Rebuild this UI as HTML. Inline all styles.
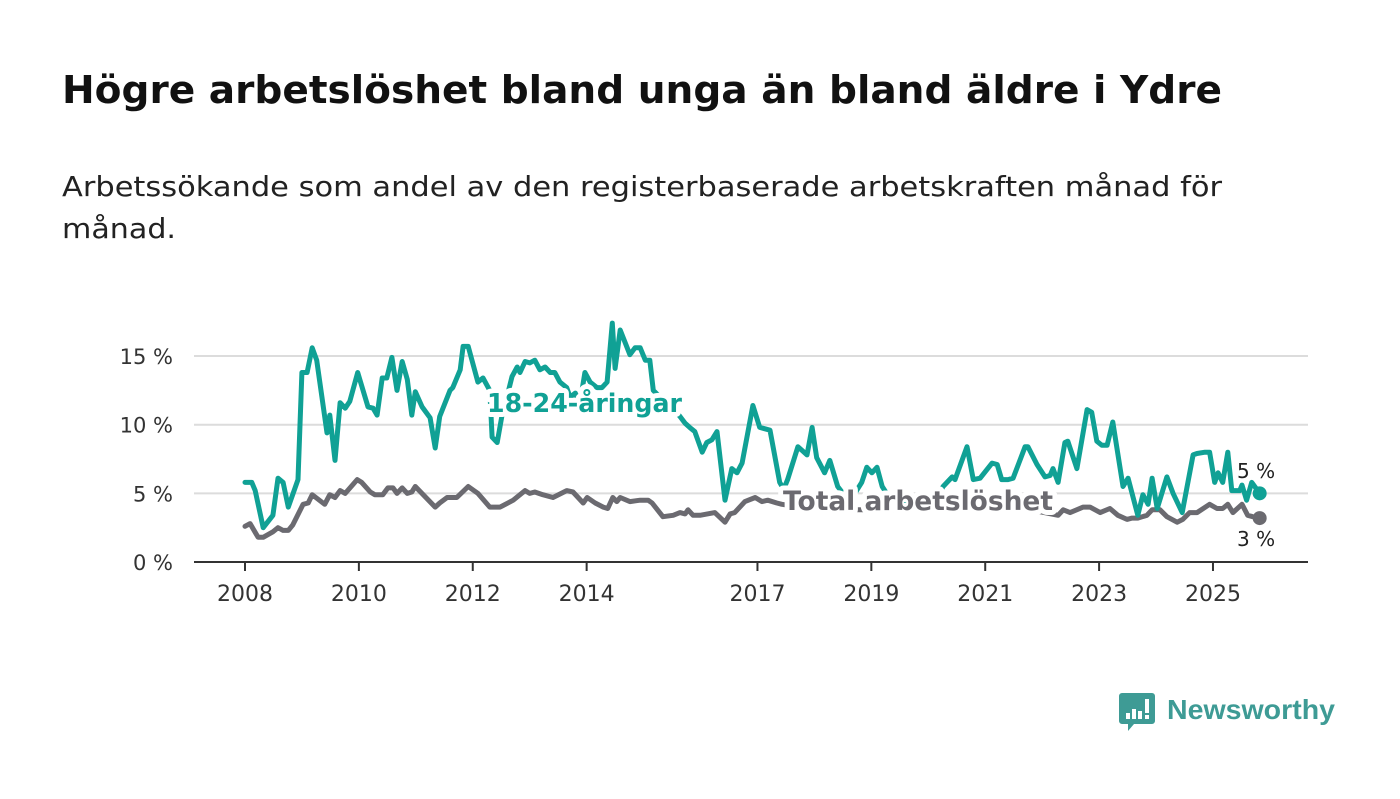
<!DOCTYPE html>
<html><head><meta charset="utf-8">
<style>
html,body{margin:0;padding:0;background:#fff;}
body{width:1400px;height:794px;overflow:hidden;font-family:"Liberation Sans",sans-serif;}
svg text{font-family:"DejaVu Sans","Liberation Sans",sans-serif;}
</style></head>
<body>
<svg id="chart" width="1400" height="794" viewBox="0 0 1400 794" xmlns="http://www.w3.org/2000/svg">
<text x="62" y="103" font-size="38" font-weight="bold" fill="#111" textLength="1160" lengthAdjust="spacingAndGlyphs">Högre arbetslöshet bland unga än bland äldre i Ydre</text>
<text x="62" y="196" font-size="28" fill="#222" textLength="1160" lengthAdjust="spacingAndGlyphs">Arbetssökande som andel av den registerbaserade arbetskraften månad för</text>
<text x="62" y="238" font-size="28" fill="#222" textLength="114" lengthAdjust="spacingAndGlyphs">månad.</text>
<g id="grid"></g>
<g id="axes"></g>
<g id="series"></g>
<g id="labels"></g>
<g>
<path d="M1122 693 h30 a3 3 0 0 1 3 3 v25 a3 3 0 0 1 -3 3 h-18 l-6 7 v-7 h-6 a3 3 0 0 1 -3 -3 v-25 a3 3 0 0 1 3 -3z" fill="#3e9b95"/>
<rect x="1126" y="713" width="4" height="6" fill="#fff"/>
<rect x="1132" y="709" width="4" height="10" fill="#fff"/>
<rect x="1138" y="711" width="4" height="8" fill="#fff"/>
<rect x="1145" y="699" width="4" height="14" fill="#fff"/>
<rect x="1145" y="715" width="4" height="4" fill="#fff"/>
<text x="1167" y="719" font-size="28" font-weight="bold" fill="#3e9b95" textLength="168" lengthAdjust="spacingAndGlyphs" style="font-family:'Liberation Sans',sans-serif">Newsworthy</text>
</g>
</svg>
<script>
const yTicks = [0, 5, 10, 15];
const yTickLabels = ["0 %", "5 %", "10 %", "15 %"];
const xTicks = [2008, 2010, 2012, 2014, 2017, 2019, 2021, 2023, 2025];
const youthDates = [2008.0,2008.12,2008.18,2008.32,2008.49,2008.58,2008.67,2008.76,2008.93,2009.0,2009.09,2009.18,2009.26,2009.44,2009.49,2009.58,2009.67,2009.76,2009.84,2009.98,2010.16,2010.25,2010.32,2010.41,2010.49,2010.58,2010.67,2010.76,2010.85,2010.93,2010.99,2011.11,2011.25,2011.34,2011.42,2011.6,2011.65,2011.78,2011.83,2011.92,2012.09,2012.18,2012.3,2012.34,2012.43,2012.51,2012.6,2012.69,2012.78,2012.83,2012.92,2013.0,2013.09,2013.18,2013.27,2013.36,2013.44,2013.53,2013.65,2013.71,2013.8,2013.88,2013.97,2014.06,2014.18,2014.27,2014.36,2014.45,2014.5,2014.59,2014.76,2014.85,2014.94,2015.03,2015.11,2015.17,2015.29,2015.46,2015.64,2015.73,2015.81,2015.9,2016.03,2016.11,2016.2,2016.29,2016.43,2016.55,2016.64,2016.73,2016.92,2017.04,2017.22,2017.39,2017.46,2017.53,2017.71,2017.87,2017.96,2018.04,2018.18,2018.27,2018.41,2018.54,2018.71,2018.83,2018.92,2019.01,2019.1,2019.19,2019.33,2019.5,2019.68,2019.85,2020.03,2020.15,2020.26,2020.42,2020.47,2020.68,2020.79,2020.91,2021.12,2021.21,2021.29,2021.4,2021.49,2021.7,2021.75,2021.91,2022.05,2022.14,2022.19,2022.28,2022.4,2022.45,2022.61,2022.79,2022.87,2022.96,2023.05,2023.14,2023.24,2023.42,2023.51,2023.68,2023.77,2023.86,2023.93,2024.02,2024.19,2024.3,2024.46,2024.65,2024.72,2024.86,2024.94,2025.03,2025.09,2025.17,2025.26,2025.33,2025.47,2025.51,2025.59,2025.68,2025.82];
const youthValues = [5.8,5.8,5.2,2.5,3.4,6.1,5.8,4.0,6.0,13.8,13.8,15.6,14.7,9.4,10.7,7.4,11.6,11.2,11.7,13.8,11.3,11.2,10.7,13.4,13.4,14.9,12.5,14.6,13.3,10.7,12.4,11.3,10.5,8.3,10.6,12.5,12.7,14.0,15.7,15.7,13.1,13.4,12.5,9.1,8.7,10.6,12.0,13.5,14.2,13.8,14.6,14.5,14.7,14.0,14.2,13.8,13.8,13.1,12.7,12.0,12.3,11.5,13.8,13.1,12.7,12.7,13.1,17.4,14.1,16.9,15.1,15.6,15.6,14.7,14.7,12.5,12.0,11.5,10.6,10.1,9.8,9.5,8.0,8.7,8.9,9.5,4.5,6.8,6.5,7.2,11.4,9.8,9.6,5.8,5.3,6.0,8.4,7.8,9.8,7.6,6.5,7.4,5.5,4.8,5.0,5.8,6.9,6.5,6.9,5.5,4.6,4.4,4.6,4.5,4.6,4.7,5.5,6.2,6.0,8.4,6.0,6.1,7.2,7.1,6.0,6.0,6.1,8.4,8.4,7.1,6.2,6.3,6.8,5.8,8.7,8.8,6.8,11.1,10.9,8.8,8.5,8.5,10.2,5.5,6.1,3.4,4.9,4.2,6.1,3.9,6.2,5.0,3.6,7.8,7.9,8.0,8.0,5.8,6.5,5.8,8.0,5.2,5.2,5.6,4.5,5.8,5.0];
const totalDates = [2008.0,2008.09,2008.23,2008.32,2008.49,2008.58,2008.67,2008.76,2008.84,2009.02,2009.11,2009.18,2009.4,2009.49,2009.58,2009.67,2009.76,2009.97,2010.05,2010.2,2010.28,2010.42,2010.51,2010.6,2010.67,2010.76,2010.85,2010.93,2010.99,2011.34,2011.42,2011.55,2011.72,2011.92,2012.09,2012.3,2012.48,2012.71,2012.92,2013.0,2013.09,2013.23,2013.41,2013.65,2013.76,2013.94,2014.01,2014.15,2014.29,2014.37,2014.46,2014.53,2014.59,2014.76,2014.94,2015.08,2015.15,2015.34,2015.52,2015.64,2015.73,2015.78,2015.87,2015.99,2016.25,2016.43,2016.52,2016.6,2016.78,2016.96,2017.08,2017.18,2017.34,2017.43,2017.75,2018.27,2018.97,2019.68,2020.38,2021.08,2021.79,2022.28,2022.37,2022.49,2022.72,2022.84,2023.02,2023.19,2023.33,2023.49,2023.58,2023.68,2023.84,2023.93,2024.07,2024.19,2024.37,2024.47,2024.59,2024.72,2024.94,2025.07,2025.17,2025.26,2025.35,2025.51,2025.61,2025.7,2025.82];
const totalValues = [2.6,2.8,1.8,1.8,2.2,2.5,2.3,2.3,2.7,4.2,4.3,4.9,4.2,4.9,4.7,5.2,5.0,6.0,5.8,5.1,4.9,4.9,5.4,5.4,5.0,5.4,5.0,5.1,5.5,4.0,4.3,4.7,4.7,5.5,5.0,4.0,4.0,4.5,5.2,5.0,5.1,4.9,4.7,5.2,5.1,4.3,4.7,4.3,4.0,3.9,4.7,4.4,4.7,4.4,4.5,4.5,4.3,3.3,3.4,3.6,3.5,3.8,3.4,3.4,3.6,2.9,3.5,3.6,4.4,4.7,4.4,4.5,4.3,4.2,4.0,3.8,3.8,3.8,4.0,3.8,3.8,3.4,3.8,3.6,4.0,4.0,3.6,3.9,3.4,3.1,3.2,3.2,3.4,3.8,3.8,3.3,2.9,3.1,3.6,3.6,4.2,3.9,3.9,4.2,3.6,4.2,3.4,3.3,3.2];

const NS = "http://www.w3.org/2000/svg";
const X0 = 245, PX_PER_YEAR = 56.94, Y0 = 562, PX_PER_PCT = 13.73;
function xScale(d){ return X0 + (d - 2008) * PX_PER_YEAR; }
function yScale(v){ return Y0 - v * PX_PER_PCT; }
function mk(tag, attrs, parent){ const e = document.createElementNS(NS, tag); for (const k in attrs) e.setAttribute(k, attrs[k]); parent.appendChild(e); return e; }

const grid = document.getElementById('grid');
const axes = document.getElementById('axes');
yTicks.forEach((t, i) => {
  if (t > 0) {
    const gl = mk('line', {x1:194, x2:1308, y1:yScale(t), y2:yScale(t), stroke:'#dcdcdc', 'stroke-width':2}, grid);
    
    
  }
  const tl = mk('text', {x:173, y:yScale(t)+8, 'font-size':21, fill:'#333', 'text-anchor':'end'}, axes);
  tl.textContent = yTickLabels[i];
  
  
});
const ax = mk('line', {x1:194, x2:1308, y1:Y0, y2:Y0, stroke:'#333', 'stroke-width':2}, axes);


xTicks.forEach(t => {
  const tk = mk('line', {x1:xScale(t), x2:xScale(t), y1:Y0, y2:Y0+9, stroke:'#333', 'stroke-width':2}, axes);
  
  
  const tl = mk('text', {x:xScale(t), y:601, 'font-size':22, fill:'#333', 'text-anchor':'middle'}, axes);
  tl.textContent = String(t);
  
  
});

const series = document.getElementById('series');
function drawLine(dates, vals, color, name){
  const pts = dates.map((d, i) => xScale(d).toFixed(1) + ',' + yScale(vals[i]).toFixed(1)).join(' ');
  const pl = mk('polyline', {points:pts, fill:'none', stroke:color, 'stroke-width':5, 'stroke-linejoin':'round', 'stroke-linecap':'round'}, series);
  
  
  const n = dates.length - 1;
  const dot = mk('circle', {cx:xScale(dates[n]), cy:yScale(vals[n]), r:7, fill:color}, series);
  
  
}
drawLine(totalDates, totalValues, '#6b6a70', 'total-line');
drawLine(youthDates, youthValues, '#10a195', 'youth-line');

const labels = document.getElementById('labels');
function label(x, y, txt, color, size, name, bold, len){
  const t = mk('text', {x:x, y:y, 'font-size':size, fill:color, 'font-weight':bold?'bold':'normal', stroke:'#fff', 'stroke-width':bold?10:6, 'stroke-linejoin':'round', 'paint-order':'stroke'}, labels);
  if (len) { t.setAttribute('textLength', len); t.setAttribute('lengthAdjust', 'spacingAndGlyphs'); }
  t.textContent = txt;
  
  
  return t;
}
label(487, 412, '18-24-åringar', '#10a195', 26, 'youth-series-label', true, 195);
label(783, 510, 'Total arbetslöshet', '#6b6a70', 27, 'total-series-label', true, 270);
label(1237, 478, '5 %', '#222', 20, 'youth-end-value', false);
label(1237, 546, '3 %', '#222', 20, 'total-end-value', false);
</script>
</body></html>
